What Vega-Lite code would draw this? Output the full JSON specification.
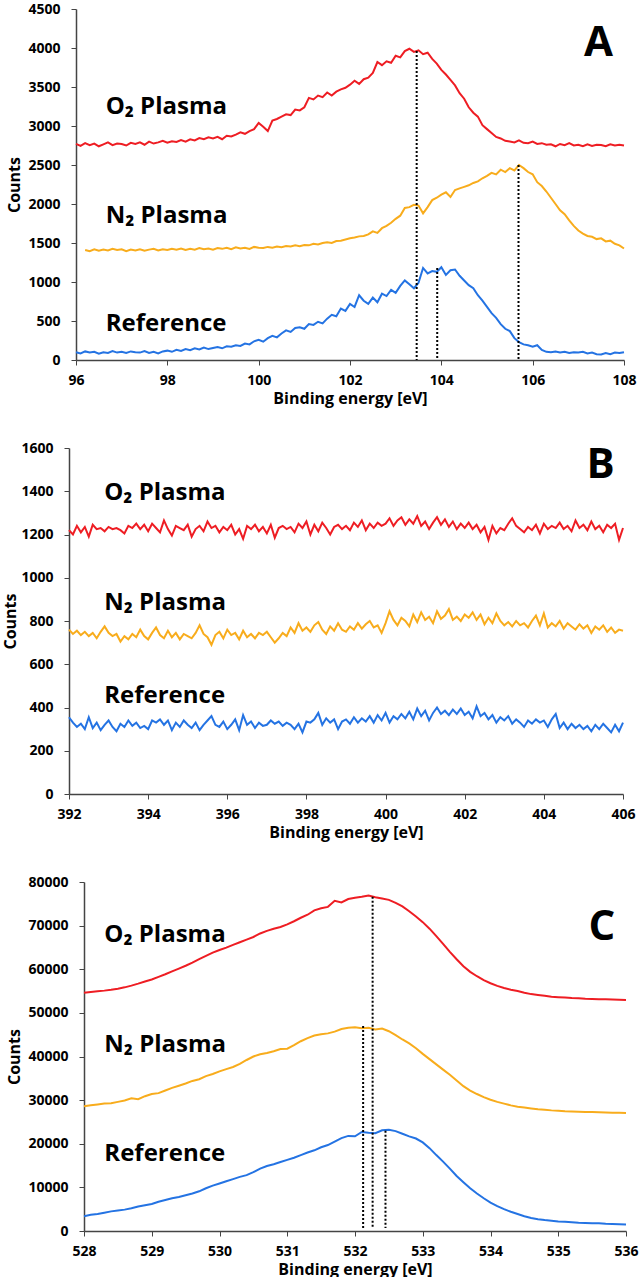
{
  "$schema": "https://vega.github.io/schema/vega-lite/v6.json",
  "padding": {"left": 2, "top": 2, "right": 0, "bottom": 0},
  "spacing": 35,
  "config": {
    "font": "Open Sans",
    "view": {"stroke": null},
    "axis": {"grid": false, "labelFont": "Open Sans", "labelFontWeight": "bold", "labelFontSize": 14, "labelColor": "#000", "titleFont": "Open Sans", "titleFontWeight": "bold", "titleFontSize": 16, "titleColor": "#000", "domainColor": "#444", "tickColor": "#444", "domainWidth": 1.5, "tickSize": 5, "labelFlush": false, "labelOverlap": false, "format": "d"},
    "axisX": {"labelPadding": 8, "titlePadding": 3},
    "axisY": {"labelPadding": 11}
  },
  "datasets": {
    "a": [
      {"x":96.0,"O":2770,"R":100},{"x":96.1,"O":2745,"R":85},{"x":96.2,"O":2780,"N":1410,"R":110},{"x":96.3,"O":2755,"N":1395,"R":95},{"x":96.4,"O":2775,"N":1420,"R":105},{"x":96.5,"O":2740,"N":1400,"R":80},{"x":96.6,"O":2765,"N":1415,"R":100},{"x":96.7,"O":2790,"N":1405,"R":90},{"x":96.8,"O":2755,"N":1425,"R":115},{"x":96.9,"O":2775,"N":1410,"R":95},
      {"x":97.0,"O":2770,"N":1420,"R":105},{"x":97.1,"O":2750,"N":1395,"R":90},{"x":97.2,"O":2785,"N":1415,"R":110},{"x":97.3,"O":2770,"N":1405,"R":100},{"x":97.4,"O":2790,"N":1420,"R":95},{"x":97.5,"O":2760,"N":1400,"R":115},{"x":97.6,"O":2800,"N":1415,"R":90},{"x":97.7,"O":2775,"N":1425,"R":105},{"x":97.8,"O":2790,"N":1405,"R":85},{"x":97.9,"O":2810,"N":1420,"R":110},
      {"x":98.0,"O":2785,"N":1410,"R":120},{"x":98.1,"O":2805,"N":1425,"R":105},{"x":98.2,"O":2795,"N":1415,"R":130},{"x":98.3,"O":2820,"N":1430,"R":115},{"x":98.4,"O":2800,"N":1410,"R":140},{"x":98.5,"O":2830,"N":1425,"R":125},{"x":98.6,"O":2815,"N":1415,"R":150},{"x":98.7,"O":2845,"N":1435,"R":135},{"x":98.8,"O":2830,"N":1420,"R":160},{"x":98.9,"O":2855,"N":1430,"R":140},
      {"x":99.0,"O":2840,"N":1415,"R":155},{"x":99.1,"O":2860,"N":1435,"R":165},{"x":99.2,"O":2830,"N":1425,"R":150},{"x":99.3,"O":2875,"N":1440,"R":175},{"x":99.4,"O":2865,"N":1420,"R":170},{"x":99.5,"O":2890,"N":1445,"R":190},{"x":99.6,"O":2920,"N":1430,"R":180},{"x":99.7,"O":2900,"N":1440,"R":210},{"x":99.8,"O":2935,"N":1425,"R":200},{"x":99.9,"O":2960,"N":1450,"R":240},
      {"x":100.0,"O":3040,"N":1440,"R":260},{"x":100.1,"O":2990,"N":1435,"R":235},{"x":100.2,"O":2935,"N":1450,"R":280},{"x":100.3,"O":3070,"N":1440,"R":310},{"x":100.4,"O":3090,"N":1455,"R":290},{"x":100.5,"O":3120,"N":1445,"R":340},{"x":100.6,"O":3150,"N":1460,"R":380},{"x":100.7,"O":3140,"N":1455,"R":360},{"x":100.8,"O":3210,"N":1470,"R":410},{"x":100.9,"O":3200,"N":1460,"R":420},
      {"x":101.0,"O":3240,"N":1475,"R":400},{"x":101.1,"O":3360,"N":1470,"R":460},{"x":101.2,"O":3340,"N":1490,"R":450},{"x":101.3,"O":3390,"N":1480,"R":490},{"x":101.4,"O":3370,"N":1500,"R":470},{"x":101.5,"O":3430,"N":1510,"R":530},{"x":101.6,"O":3390,"N":1500,"R":580},{"x":101.7,"O":3440,"N":1525,"R":560},{"x":101.8,"O":3470,"N":1530,"R":660},{"x":101.9,"O":3490,"N":1545,"R":630},
      {"x":102.0,"O":3530,"N":1560,"R":720},{"x":102.1,"O":3580,"N":1570,"R":680},{"x":102.2,"O":3540,"N":1585,"R":830},{"x":102.3,"O":3600,"N":1590,"R":760},{"x":102.4,"O":3620,"N":1610,"R":720},{"x":102.5,"O":3680,"N":1650,"R":800},{"x":102.6,"O":3820,"N":1630,"R":740},{"x":102.7,"O":3780,"N":1690,"R":850},{"x":102.8,"O":3830,"N":1720,"R":820},{"x":102.9,"O":3810,"N":1760,"R":900},
      {"x":103.0,"O":3900,"N":1810,"R":860},{"x":103.1,"O":3880,"N":1850,"R":950},{"x":103.2,"O":3960,"N":1950,"R":1020},{"x":103.3,"O":3990,"N":1960,"R":970},{"x":103.4,"O":3950,"N":1990,"R":920},{"x":103.5,"O":3970,"N":1980,"R":990},{"x":103.6,"O":3920,"N":1880,"R":1180},{"x":103.7,"O":3940,"N":1960,"R":1110},{"x":103.8,"O":3860,"N":2050,"R":1140},{"x":103.9,"O":3800,"N":2080,"R":1130},
      {"x":104.0,"O":3720,"N":2120,"R":1190},{"x":104.1,"O":3660,"N":2150,"R":1090},{"x":104.2,"O":3590,"N":2090,"R":1150},{"x":104.3,"O":3520,"N":2180,"R":1160},{"x":104.4,"O":3420,"N":2200,"R":1080},{"x":104.5,"O":3350,"N":2220,"R":1020},{"x":104.6,"O":3240,"N":2240,"R":960},{"x":104.7,"O":3170,"N":2270,"R":920},{"x":104.8,"O":3120,"N":2290,"R":830},{"x":104.9,"O":3010,"N":2330,"R":760},
      {"x":105.0,"O":2960,"N":2360,"R":680},{"x":105.1,"O":2910,"N":2400,"R":600},{"x":105.2,"O":2860,"N":2380,"R":540},{"x":105.3,"O":2840,"N":2440,"R":460},{"x":105.4,"O":2810,"N":2410,"R":400},{"x":105.5,"O":2800,"N":2460,"R":370},{"x":105.6,"O":2790,"N":2430,"R":280},{"x":105.7,"O":2815,"N":2500,"R":230},{"x":105.8,"O":2785,"N":2460,"R":200},{"x":105.9,"O":2780,"N":2410,"R":190},
      {"x":106.0,"O":2800,"N":2380,"R":170},{"x":106.1,"O":2770,"N":2280,"R":190},{"x":106.2,"O":2780,"N":2230,"R":130},{"x":106.3,"O":2760,"N":2160,"R":105},{"x":106.4,"O":2765,"N":2080,"R":100},{"x":106.5,"O":2740,"N":2000,"R":110},{"x":106.6,"O":2770,"N":1920,"R":95},{"x":106.7,"O":2755,"N":1870,"R":105},{"x":106.8,"O":2780,"N":1790,"R":90},{"x":106.9,"O":2750,"N":1720,"R":100},
      {"x":107.0,"O":2760,"N":1660,"R":95},{"x":107.1,"O":2740,"N":1620,"R":105},{"x":107.2,"O":2765,"N":1590,"R":85},{"x":107.3,"O":2745,"N":1580,"R":95},{"x":107.4,"O":2760,"N":1550,"R":75},{"x":107.5,"O":2755,"N":1560,"R":70},{"x":107.6,"O":2740,"N":1520,"R":90},{"x":107.7,"O":2765,"N":1530,"R":75},{"x":107.8,"O":2750,"N":1490,"R":95},{"x":107.9,"O":2760,"N":1470,"R":90},
      {"x":108.0,"O":2750,"N":1430,"R":100}
    ],
    "b": [
      {"x":392.0,"O":1220,"N":760,"R":355},{"x":392.1,"O":1200,"N":740,"R":330},{"x":392.2,"O":1240,"N":755,"R":310},{"x":392.3,"O":1210,"N":735,"R":325},{"x":392.4,"O":1235,"N":750,"R":300},{"x":392.5,"O":1190,"N":730,"R":355},{"x":392.6,"O":1245,"N":745,"R":305},{"x":392.7,"O":1225,"N":720,"R":330},{"x":392.8,"O":1230,"N":750,"R":295},{"x":392.9,"O":1215,"N":775,"R":320},
      {"x":393.0,"O":1235,"N":745,"R":340},{"x":393.1,"O":1225,"N":730,"R":310},{"x":393.2,"O":1230,"N":740,"R":290},{"x":393.3,"O":1220,"N":705,"R":325},{"x":393.4,"O":1205,"N":730,"R":310},{"x":393.5,"O":1240,"N":715,"R":340},{"x":393.6,"O":1230,"N":740,"R":315},{"x":393.7,"O":1250,"N":725,"R":330},{"x":393.8,"O":1225,"N":760,"R":305},{"x":393.9,"O":1245,"N":730,"R":315},
      {"x":394.0,"O":1215,"N":715,"R":300},{"x":394.1,"O":1250,"N":745,"R":340},{"x":394.2,"O":1230,"N":770,"R":330},{"x":394.3,"O":1210,"N":735,"R":345},{"x":394.4,"O":1265,"N":720,"R":320},{"x":394.5,"O":1225,"N":755,"R":340},{"x":394.6,"O":1195,"N":725,"R":295},{"x":394.7,"O":1240,"N":745,"R":330},{"x":394.8,"O":1230,"N":715,"R":310},{"x":394.9,"O":1220,"N":740,"R":340},
      {"x":395.0,"O":1245,"N":730,"R":320},{"x":395.1,"O":1190,"N":720,"R":305},{"x":395.2,"O":1225,"N":745,"R":330},{"x":395.3,"O":1240,"N":780,"R":295},{"x":395.4,"O":1215,"N":740,"R":320},{"x":395.5,"O":1260,"N":725,"R":340},{"x":395.6,"O":1230,"N":690,"R":360},{"x":395.7,"O":1240,"N":735,"R":320},{"x":395.8,"O":1210,"N":750,"R":310},{"x":395.9,"O":1235,"N":720,"R":335},
      {"x":396.0,"O":1220,"N":760,"R":300},{"x":396.1,"O":1245,"N":735,"R":320},{"x":396.2,"O":1200,"N":745,"R":345},{"x":396.3,"O":1225,"N":715,"R":295},{"x":396.4,"O":1180,"N":755,"R":365},{"x":396.5,"O":1240,"N":725,"R":320},{"x":396.6,"O":1225,"N":740,"R":335},{"x":396.7,"O":1245,"N":720,"R":305},{"x":396.8,"O":1215,"N":745,"R":330},{"x":396.9,"O":1235,"N":735,"R":315},
      {"x":397.0,"O":1205,"N":750,"R":320},{"x":397.1,"O":1245,"N":725,"R":340},{"x":397.2,"O":1185,"N":700,"R":325},{"x":397.3,"O":1230,"N":720,"R":335},{"x":397.4,"O":1240,"N":745,"R":315},{"x":397.5,"O":1225,"N":730,"R":330},{"x":397.6,"O":1235,"N":770,"R":320},{"x":397.7,"O":1210,"N":745,"R":300},{"x":397.8,"O":1250,"N":790,"R":325},{"x":397.9,"O":1230,"N":755,"R":285},
      {"x":398.0,"O":1260,"N":770,"R":335},{"x":398.1,"O":1200,"N":750,"R":330},{"x":398.2,"O":1245,"N":780,"R":345},{"x":398.3,"O":1215,"N":795,"R":375},{"x":398.4,"O":1255,"N":760,"R":320},{"x":398.5,"O":1230,"N":740,"R":350},{"x":398.6,"O":1200,"N":775,"R":330},{"x":398.7,"O":1235,"N":755,"R":345},{"x":398.8,"O":1245,"N":790,"R":300},{"x":398.9,"O":1225,"N":760,"R":335},
      {"x":399.0,"O":1240,"N":750,"R":345},{"x":399.1,"O":1220,"N":775,"R":325},{"x":399.2,"O":1255,"N":760,"R":355},{"x":399.3,"O":1235,"N":790,"R":330},{"x":399.4,"O":1265,"N":765,"R":350},{"x":399.5,"O":1220,"N":785,"R":335},{"x":399.6,"O":1250,"N":800,"R":360},{"x":399.7,"O":1230,"N":770,"R":330},{"x":399.8,"O":1255,"N":780,"R":365},{"x":399.9,"O":1240,"N":745,"R":340},
      {"x":400.0,"O":1250,"N":790,"R":375},{"x":400.1,"O":1275,"N":845,"R":330},{"x":400.2,"O":1240,"N":805,"R":360},{"x":400.3,"O":1265,"N":780,"R":345},{"x":400.4,"O":1280,"N":815,"R":370},{"x":400.5,"O":1245,"N":800,"R":350},{"x":400.6,"O":1270,"N":775,"R":380},{"x":400.7,"O":1250,"N":830,"R":345},{"x":400.8,"O":1285,"N":795,"R":395},{"x":400.9,"O":1240,"N":840,"R":360},
      {"x":401.0,"O":1260,"N":805,"R":385},{"x":401.1,"O":1225,"N":820,"R":340},{"x":401.2,"O":1255,"N":790,"R":375},{"x":401.3,"O":1280,"N":845,"R":400},{"x":401.4,"O":1245,"N":810,"R":370},{"x":401.5,"O":1270,"N":825,"R":385},{"x":401.6,"O":1235,"N":855,"R":365},{"x":401.7,"O":1260,"N":805,"R":390},{"x":401.8,"O":1225,"N":820,"R":370},{"x":401.9,"O":1250,"N":800,"R":395},
      {"x":402.0,"O":1230,"N":830,"R":365},{"x":402.1,"O":1255,"N":815,"R":380},{"x":402.2,"O":1225,"N":840,"R":350},{"x":402.3,"O":1245,"N":805,"R":405},{"x":402.4,"O":1210,"N":830,"R":360},{"x":402.5,"O":1235,"N":785,"R":375},{"x":402.6,"O":1175,"N":815,"R":345},{"x":402.7,"O":1240,"N":790,"R":365},{"x":402.8,"O":1205,"N":835,"R":330},{"x":402.9,"O":1230,"N":800,"R":355},
      {"x":403.0,"O":1220,"N":780,"R":340},{"x":403.1,"O":1250,"N":795,"R":360},{"x":403.2,"O":1275,"N":775,"R":325},{"x":403.3,"O":1240,"N":800,"R":345},{"x":403.4,"O":1225,"N":780,"R":330},{"x":403.5,"O":1210,"N":790,"R":310},{"x":403.6,"O":1235,"N":770,"R":340},{"x":403.7,"O":1220,"N":800,"R":325},{"x":403.8,"O":1245,"N":825,"R":345},{"x":403.9,"O":1205,"N":780,"R":330},
      {"x":404.0,"O":1250,"N":835,"R":340},{"x":404.1,"O":1225,"N":770,"R":310},{"x":404.2,"O":1240,"N":790,"R":345},{"x":404.3,"O":1230,"N":775,"R":370},{"x":404.4,"O":1255,"N":800,"R":305},{"x":404.5,"O":1225,"N":765,"R":330},{"x":404.6,"O":1240,"N":790,"R":300},{"x":404.7,"O":1215,"N":775,"R":325},{"x":404.8,"O":1265,"N":760,"R":305},{"x":404.9,"O":1230,"N":785,"R":320},
      {"x":405.0,"O":1245,"N":765,"R":300},{"x":405.1,"O":1220,"N":780,"R":315},{"x":405.2,"O":1260,"N":745,"R":290},{"x":405.3,"O":1225,"N":775,"R":320},{"x":405.4,"O":1240,"N":760,"R":300},{"x":405.5,"O":1210,"N":780,"R":325},{"x":405.6,"O":1245,"N":750,"R":305},{"x":405.7,"O":1230,"N":770,"R":285},{"x":405.8,"O":1250,"N":745,"R":320},{"x":405.9,"O":1175,"N":760,"R":290},
      {"x":406.0,"O":1230,"N":755,"R":330}
    ],
    "c": [
      {"x":528.0,"O":54600,"N":28600,"R":3400},{"x":528.1,"O":54800,"N":28800,"R":3700},{"x":528.2,"O":54950,"N":29000,"R":3900},{"x":528.3,"O":55100,"N":29200,"R":4200},{"x":528.4,"O":55300,"N":29300,"R":4500},{"x":528.5,"O":55550,"N":29600,"R":4700},{"x":528.6,"O":55850,"N":29900,"R":4900},{"x":528.7,"O":56250,"N":30400,"R":5200},{"x":528.8,"O":56700,"N":30200,"R":5600},{"x":528.9,"O":57200,"N":30900,"R":5900},
      {"x":529.0,"O":57650,"N":31400,"R":6200},{"x":529.1,"O":58250,"N":31600,"R":6700},{"x":529.2,"O":58850,"N":32200,"R":7100},{"x":529.3,"O":59500,"N":32800,"R":7500},{"x":529.4,"O":60150,"N":33300,"R":7800},{"x":529.5,"O":60800,"N":33800,"R":8200},{"x":529.6,"O":61500,"N":34400,"R":8600},{"x":529.7,"O":62300,"N":34800,"R":9100},{"x":529.8,"O":63050,"N":35500,"R":9800},{"x":529.9,"O":63800,"N":36000,"R":10400},
      {"x":530.0,"O":64400,"N":36600,"R":10900},{"x":530.1,"O":64950,"N":37100,"R":11400},{"x":530.2,"O":65600,"N":37600,"R":11900},{"x":530.3,"O":66200,"N":38300,"R":12400},{"x":530.4,"O":66800,"N":39200,"R":12800},{"x":530.5,"O":67400,"N":40000,"R":13500},{"x":530.6,"O":68200,"N":40500,"R":14300},{"x":530.7,"O":68800,"N":40800,"R":14900},{"x":530.8,"O":69300,"N":41200,"R":15300},{"x":530.9,"O":69700,"N":41700,"R":15800},
      {"x":531.0,"O":70300,"N":41800,"R":16300},{"x":531.1,"O":71000,"N":42600,"R":16800},{"x":531.2,"O":71800,"N":43500,"R":17400},{"x":531.3,"O":72500,"N":44200,"R":18000},{"x":531.4,"O":73500,"N":44800,"R":18500},{"x":531.5,"O":74000,"N":45100,"R":19200},{"x":531.6,"O":74300,"N":45300,"R":19700},{"x":531.7,"O":75700,"N":45700,"R":20500},{"x":531.8,"O":75300,"N":46300,"R":21300},{"x":531.9,"O":76100,"N":46600,"R":21800},
      {"x":532.0,"O":76400,"N":46700,"R":21700},{"x":532.1,"O":76600,"N":46500,"R":22700},{"x":532.2,"O":76900,"N":46600,"R":22500},{"x":532.3,"O":76500,"N":46200,"R":22400},{"x":532.4,"O":76200,"N":46400,"R":23100},{"x":532.5,"O":75900,"N":45800,"R":23200},{"x":532.6,"O":75200,"N":44900,"R":22900},{"x":532.7,"O":74400,"N":43900,"R":22300},{"x":532.8,"O":73300,"N":43000,"R":21700},{"x":532.9,"O":72100,"N":41900,"R":21200},
      {"x":533.0,"O":70800,"N":40600,"R":20300},{"x":533.1,"O":69300,"N":39400,"R":19000},{"x":533.2,"O":67600,"N":38200,"R":17400},{"x":533.3,"O":65800,"N":37000,"R":15900},{"x":533.4,"O":64000,"N":35800,"R":14300},{"x":533.5,"O":62300,"N":34500,"R":12600},{"x":533.6,"O":60700,"N":33200,"R":11200},{"x":533.7,"O":59400,"N":32200,"R":9800},{"x":533.8,"O":58400,"N":31400,"R":8600},{"x":533.9,"O":57500,"N":30700,"R":7500},
      {"x":534.0,"O":56800,"N":30100,"R":6500},{"x":534.1,"O":56200,"N":29600,"R":5700},{"x":534.2,"O":55700,"N":29200,"R":5000},{"x":534.3,"O":55300,"N":28800,"R":4400},{"x":534.4,"O":55000,"N":28500,"R":3900},{"x":534.5,"O":54600,"N":28300,"R":3400},{"x":534.6,"O":54300,"N":28100,"R":3000},{"x":534.7,"O":54100,"N":27900,"R":2700},{"x":534.8,"O":53900,"N":27800,"R":2500},{"x":534.9,"O":53700,"N":27650,"R":2350},
      {"x":535.0,"O":53600,"N":27550,"R":2200},{"x":535.1,"O":53500,"N":27450,"R":2100},{"x":535.2,"O":53400,"N":27400,"R":2000},{"x":535.3,"O":53350,"N":27350,"R":1900},{"x":535.4,"O":53250,"N":27300,"R":1850},{"x":535.5,"O":53200,"N":27250,"R":1800},{"x":535.6,"O":53150,"N":27200,"R":1750},{"x":535.7,"O":53100,"N":27150,"R":1650},{"x":535.8,"O":53050,"N":27100,"R":1600},{"x":535.9,"O":53000,"N":27080,"R":1550},
      {"x":536.0,"O":52950,"N":27050,"R":1500}
    ]
  },
  "vconcat": [
    {
      "width": 555, "height": 351,
      "layer": [
        {
          "data": {"name": "a"},
          "transform": [{"fold": ["O", "N", "R"], "as": ["s", "y"]}],
          "mark": {"type": "line", "strokeWidth": 2},
          "encoding": {
            "x": {"field": "x", "type": "quantitative", "scale": {"domain": [96, 108], "range": [7, 555], "nice": false, "zero": false}, "axis": {"values": [96, 98, 100, 102, 104, 106, 108], "tickCount": 20, "title": "Binding energy [eV]"}},
            "y": {"field": "y", "type": "quantitative", "scale": {"domain": [0, 4500], "nice": false}, "axis": {"values": [0, 500, 1000, 1500, 2000, 2500, 3000, 3500, 4000, 4500], "tickCount": 20, "offset": -7, "title": "Counts", "titlePadding": 5}},
            "color": {"field": "s", "type": "nominal", "scale": {"domain": ["O", "N", "R"], "range": ["#ee1d23", "#f8ac1c", "#2473e3"]}, "legend": null}
          }
        },
        {
          "data": {"values": [{"x": 103.46, "y": 3960, "y2": 0}, {"x": 103.91, "y": 1180, "y2": 0}, {"x": 105.69, "y": 2500, "y2": 0}]},
          "mark": {"type": "rule", "strokeDash": [2, 2], "strokeWidth": 2, "color": "#000"},
          "encoding": {"x": {"field": "x", "type": "quantitative"}, "y": {"field": "y", "type": "quantitative"}, "y2": {"field": "y2"}}
        },
        {
          "data": {"values": [{"x": 96.65, "y": 3250, "t": "O₂ Plasma"}, {"x": 96.65, "y": 1842, "t": "N₂ Plasma"}, {"x": 96.65, "y": 456, "t": "Reference"}]},
          "mark": {"type": "text", "align": "left", "baseline": "middle", "font": "Open Sans", "fontWeight": "bold", "fontSize": 24, "color": "#000"},
          "encoding": {"x": {"field": "x", "type": "quantitative"}, "y": {"field": "y", "type": "quantitative"}, "text": {"field": "t"}}
        },
        {
          "data": {"values": [{"x": 107.76, "y": 4060, "t": "A"}]},
          "mark": {"type": "text", "align": "right", "baseline": "middle", "font": "Open Sans", "fontWeight": "bold", "fontSize": 42, "color": "#000"},
          "encoding": {"x": {"field": "x", "type": "quantitative"}, "y": {"field": "y", "type": "quantitative"}, "text": {"field": "t"}}
        }
      ]
    },
    {
      "width": 554, "height": 346,
      "layer": [
        {
          "data": {"name": "b"},
          "transform": [{"fold": ["O", "N", "R"], "as": ["s", "y"]}],
          "mark": {"type": "line", "strokeWidth": 2},
          "encoding": {
            "x": {"field": "x", "type": "quantitative", "scale": {"domain": [392, 406], "nice": false, "zero": false}, "axis": {"values": [392, 394, 396, 398, 400, 402, 404, 406], "tickCount": 20, "title": "Binding energy [eV]"}},
            "y": {"field": "y", "type": "quantitative", "scale": {"domain": [0, 1600], "nice": false}, "axis": {"values": [0, 200, 400, 600, 800, 1000, 1200, 1400, 1600], "tickCount": 20, "title": "Counts", "titlePadding": 2}},
            "color": {"field": "s", "type": "nominal", "scale": {"domain": ["O", "N", "R"], "range": ["#ee1d23", "#f8ac1c", "#2473e3"]}, "legend": null}
          }
        },
        {
          "data": {"values": [{"x": 392.89, "y": 1392, "t": "O₂ Plasma"}, {"x": 392.89, "y": 885, "t": "N₂ Plasma"}, {"x": 392.89, "y": 454, "t": "Reference"}]},
          "mark": {"type": "text", "align": "left", "baseline": "middle", "font": "Open Sans", "fontWeight": "bold", "fontSize": 24, "color": "#000"},
          "encoding": {"x": {"field": "x", "type": "quantitative"}, "y": {"field": "y", "type": "quantitative"}, "text": {"field": "t"}}
        },
        {
          "data": {"values": [{"x": 405.79, "y": 1523, "t": "B"}]},
          "mark": {"type": "text", "align": "right", "baseline": "middle", "font": "Open Sans", "fontWeight": "bold", "fontSize": 42, "color": "#000"},
          "encoding": {"x": {"field": "x", "type": "quantitative"}, "y": {"field": "y", "type": "quantitative"}, "text": {"field": "t"}}
        }
      ]
    },
    {
      "width": 557, "height": 349,
      "layer": [
        {
          "data": {"name": "c"},
          "transform": [{"fold": ["O", "N", "R"], "as": ["s", "y"]}],
          "mark": {"type": "line", "strokeWidth": 2},
          "encoding": {
            "x": {"field": "x", "type": "quantitative", "scale": {"domain": [528, 536], "range": [15, 557], "nice": false, "zero": false}, "axis": {"values": [528, 529, 530, 531, 532, 533, 534, 535, 536], "tickCount": 20, "title": "Binding energy [eV]"}},
            "y": {"field": "y", "type": "quantitative", "scale": {"domain": [0, 80000], "nice": false}, "axis": {"values": [0, 10000, 20000, 30000, 40000, 50000, 60000, 70000, 80000], "tickCount": 20, "offset": -15, "title": "Counts", "titlePadding": 5}},
            "color": {"field": "s", "type": "nominal", "scale": {"domain": ["O", "N", "R"], "range": ["#ee1d23", "#f8ac1c", "#2473e3"]}, "legend": null}
          }
        },
        {
          "data": {"values": [{"x": 532.12, "y": 47000, "y2": 700}, {"x": 532.26, "y": 76600, "y2": 700}, {"x": 532.45, "y": 23000, "y2": 700}]},
          "mark": {"type": "rule", "strokeDash": [2, 2], "strokeWidth": 2, "color": "#000"},
          "encoding": {"x": {"field": "x", "type": "quantitative"}, "y": {"field": "y", "type": "quantitative"}, "y2": {"field": "y2"}}
        },
        {
          "data": {"values": [{"x": 528.3, "y": 67800, "t": "O₂ Plasma"}, {"x": 528.3, "y": 42670, "t": "N₂ Plasma"}, {"x": 528.3, "y": 17750, "t": "Reference"}]},
          "mark": {"type": "text", "align": "left", "baseline": "middle", "font": "Open Sans", "fontWeight": "bold", "fontSize": 24, "color": "#000"},
          "encoding": {"x": {"field": "x", "type": "quantitative"}, "y": {"field": "y", "type": "quantitative"}, "text": {"field": "t"}}
        },
        {
          "data": {"values": [{"x": 535.84, "y": 69710, "t": "C"}]},
          "mark": {"type": "text", "align": "right", "baseline": "middle", "font": "Open Sans", "fontWeight": "bold", "fontSize": 42, "color": "#000"},
          "encoding": {"x": {"field": "x", "type": "quantitative"}, "y": {"field": "y", "type": "quantitative"}, "text": {"field": "t"}}
        }
      ]
    }
  ]
}
